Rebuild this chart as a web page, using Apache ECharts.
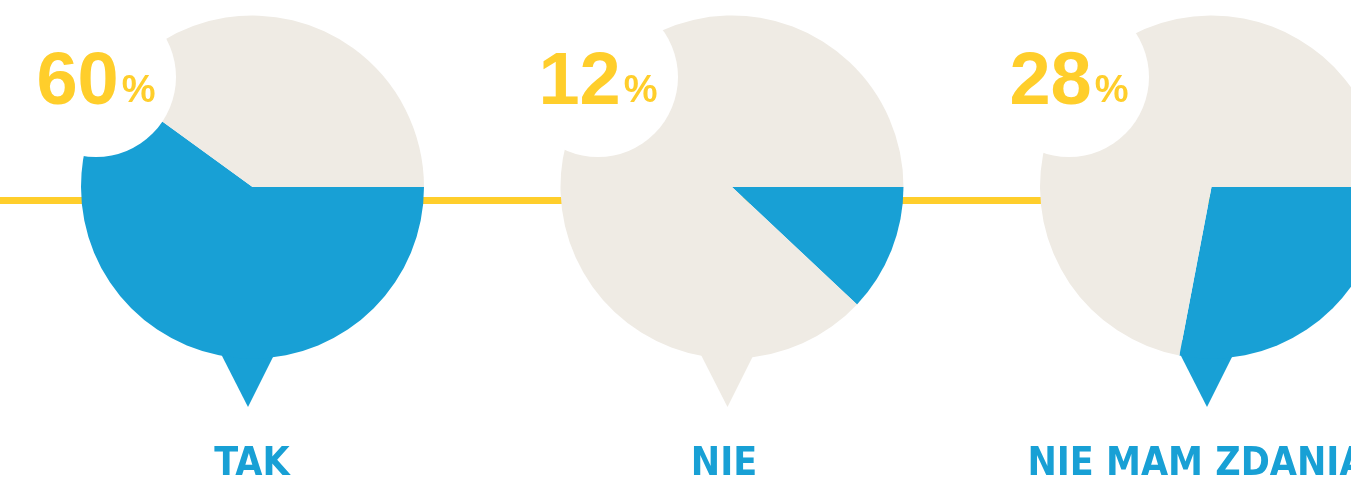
<!DOCTYPE html>
<html>
<head>
<meta charset="utf-8">
<script src="https://cdn.jsdelivr.net/npm/echarts@6/dist/echarts.min.js"></script>
<style>
    html, body { margin: 0; padding: 0; background: #ffffff; }
    #main { width: 1351px; height: 482px; }
</style>
</head>
<body>
<div id="main"></div>
<script>
// dane z wykresu
var categories = ['TAK', 'NIE', 'NIE MAM ZDANIA'];
var shares = [60, 12, 28];          // niebieski wycinek
var restShares = [40, 88, 72];      // bezowy wycinek

var BLUE = '#18A0D5';
var BEIGE = '#EFEBE4';
var YELLOW = '#FFCE2B';

// polozenie kolek i podpisow
var pieCenters = [[252.5, 187], [732, 187], [1211.5, 187]];
var badgeCenters = [[96, 77], [598, 77], [1069, 77]];
var labelX = [252, 724, 1197];
var pieRadius = 171.5;

var series = [];
var graphic = [];

// zolta linia w tle
graphic.push({
    type: 'line',
    z: 0,
    shape: { x1: 0, y1: 200.5, x2: 1351, y2: 200.5 },
    style: { stroke: YELLOW, lineWidth: 7 }
});

var $each = function (arr, fn) { for (var i = 0; i < arr.length; i++) fn(i, arr[i]); };

$each(categories, function (i, name) {
    var c = pieCenters[i];
    series.push({
        type: 'pie',
        z: 2,
        silent: true,
        animation: false,
        center: c,
        radius: [0, pieRadius],
        startAngle: 0,
        clockwise: true,
        label: { show: false },
        labelLine: { show: false },
        emphasis: { disabled: true },
        itemStyle: { borderWidth: 0 },
        data: [
            { name: name, value: shares[i], itemStyle: { color: BLUE } },
            { name: 'reszta', value: restShares[i], itemStyle: { color: BEIGE } }
        ]
    });
    // biale kolko z procentem
    series.push({
        type: 'pie',
        z: 3,
        silent: true,
        animation: false,
        center: badgeCenters[i],
        radius: [0, 80],
        itemStyle: { borderWidth: 0, color: '#ffffff' },
        emphasis: { disabled: true },
        labelLine: { show: false },
        label: {
            show: true,
            position: 'center',
            formatter: '{a|' + shares[i] + '}{b|%}',
            rich: {
                a: {
                    fontFamily: 'Liberation Sans',
                    fontWeight: 'bold',
                    fontSize: 74,
                    color: YELLOW,
                    verticalAlign: 'bottom',
                    lineHeight: 88
                },
                b: {
                    fontFamily: 'Liberation Sans',
                    fontWeight: 'bold',
                    fontSize: 38,
                    color: YELLOW,
                    verticalAlign: 'bottom',
                    padding: [0, 0, 10, 3]
                }
            }
        },
        data: [{ name: 'badge', value: 1 }]
    });

    // dziobek dymka - kolor wycinka na dole
    var bottomColor = (shares[i] / 100) * 360 > 90 ? BLUE : BEIGE;
    graphic.push({
        type: 'polygon',
        z: 1,
        shape: {
            points: [[c[0] - 38.6, c[1] + 153], [c[0] + 29, c[1] + 153], [c[0] - 4.5, c[1] + 220]]
        },
        style: { fill: bottomColor }
    });

    graphic.push({
        type: 'text',
        z: 5,
        x: labelX[i],
        y: 465,
        style: {
            text: name,
            fill: BLUE,
            font: 'bold 39px "Liberation Sans Narrow", "DejaVu Sans Condensed", sans-serif',
            textAlign: 'center',
            textVerticalAlign: 'middle'
        }
    });
});

var myChart = echarts.init(document.getElementById('main'));
myChart.setOption({
    animation: false,
    backgroundColor: '#ffffff',
    series: series,
    graphic: graphic
});
</script>
</body>
</html>
